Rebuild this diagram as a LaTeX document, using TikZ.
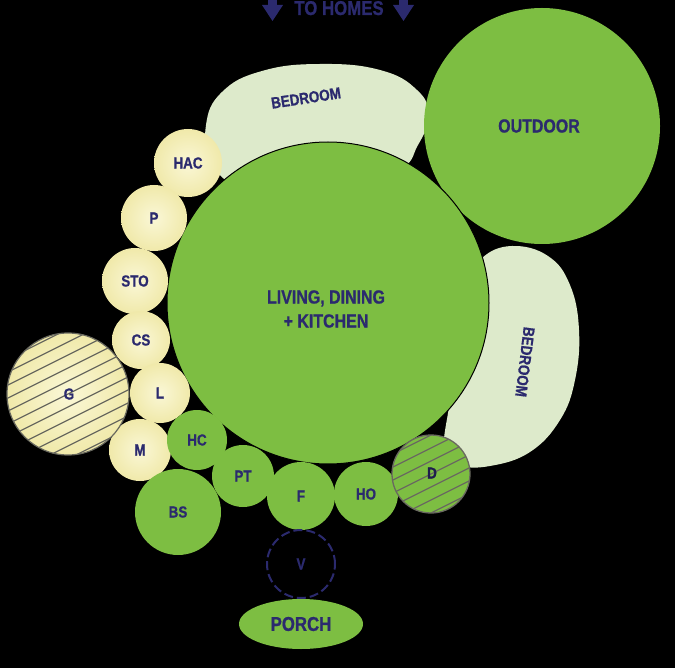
\documentclass[tikz,border=0pt]{standalone}
\usepackage{fontspec}
\usetikzlibrary{shapes.geometric}
\newfontfamily\labfont[FakeStretch=0.84, FakeBold=0.8]{Liberation Sans Bold}
\definecolor{navyc}{RGB}{43,42,110}
\definecolor{greenc}{RGB}{125,190,66}
\definecolor{bedc}{RGB}{221,234,203}
\definecolor{yelin}{RGB}{250,247,214}
\definecolor{yelout}{RGB}{240,233,170}
\definecolor{hatchc}{RGB}{105,105,95}
\tikzset{
  lbl/.style={text=navyc, font=\labfont\fontsize{16}{18}\selectfont},
  biglbl/.style={text=navyc, font=\labfont\fontsize{19}{24}\selectfont, align=center},
  bedlbl/.style={text=navyc, font=\labfont\fontsize{16}{18}\selectfont},
  yel/.style={circle, inner sep=0pt, outer sep=0pt, minimum size=#1pt, inner color=yelin, outer color=yelout, lbl},
  grn/.style={circle, inner sep=0pt, outer sep=0pt, minimum size=#1pt, fill=greenc, lbl},
  hatchlines/.style={path picture={
     \foreach \b in {-130,-117,...,130}
       \draw[hatchc, line width=1.3pt, shift={(path picture bounding box.center)}] (-90,\b+45) -- (90,\b-45);}},
}
\begin{document}
\begin{tikzpicture}[x=1pt,y=-1pt]
\useasboundingbox (0,0) rectangle (675,668);
\fill[black] (0,0) rectangle (675,668);

% bedrooms
\fill[bedc] plot[smooth cycle, tension=0.75] coordinates {(206,125) (222,92) (262,71) (320,64) (380,70) (417,90) (428,115) (418,145) (395,172) (320,192) (240,186) (212,160)};
\fill[bedc] plot[smooth cycle, tension=0.7] coordinates {(482,258) (512,246) (548,256) (570,285) (579,330) (575,380) (560,420) (530,452) (490,466) (458,465) (444,450) (450,400) (460,330) (468,285)};

% outdoor
\node[circle, fill=greenc, minimum size=236pt, inner sep=0pt, outer sep=0pt] (out) at (542,126) {};
\node[biglbl] (outl) at (539,126) {OUTDOOR};

% main circle
\node[circle, fill=greenc, draw=black, line width=1pt, minimum size=322pt, inner sep=0pt, outer sep=0pt] (liv) at (328,303) {};
\node[biglbl] (livl) at (326,309) {LIVING, DINING\\+ KITCHEN};

% bedroom labels
\node[bedlbl, rotate=8.7] (bed1) at (306,98) {BEDROOM};
\node[bedlbl, rotate=-97] (bed2) at (525,362) {BEDROOM};

% yellow circles
\node[yel=68] (hac) at (188,163) {HAC};
\node[yel=66] (p) at (154,218) {P};
\node[yel=66] (sto) at (135,281) {STO};
\node[yel=58] (cs) at (141,340) {CS};
\node[yel=60] (l) at (160,393) {L};
\node[yel=62] (m) at (140,450) {M};
\node[yel=122, draw=hatchc, line width=1.2pt, hatchlines] (g) at (68,394) {};
\node[lbl] (gl) at (69,394) {G};

% green circles
\node[grn=60] (hc) at (197,440) {HC};
\node[grn=62] (pt) at (243,476) {PT};
\node[grn=68] (f) at (301,496) {F};
\node[grn=64] (ho) at (366,494) {HO};
\node[grn=86] (bs) at (178,512) {BS};
\node[grn=78, draw=hatchc, line width=1.3pt, hatchlines] (d) at (431,474) {};
\node[lbl, text=navyc!70!black] (dl) at (432,473) {D};

% V and porch
\node[circle, draw=navyc, line width=2pt, dash pattern=on 9pt off 4pt, minimum size=68pt, inner sep=0pt, lbl] (v) at (301,564) {V};
\node[ellipse, fill=greenc, minimum width=124pt, minimum height=50pt, inner sep=0pt, biglbl, font=\labfont\fontsize{20}{24}\selectfont] (porch) at (301,624) {PORCH};

% to homes
\node[biglbl, anchor=base, font=\labfont\fontsize{20}{24}\selectfont] (home) at (339,15) {TO HOMES};
\fill[navyc] (268,-1) rectangle (277,6);
\fill[navyc] (262,5) -- (283,5) -- (272.5,21) -- cycle;
\fill[navyc] (399,-1) rectangle (408,6);
\fill[navyc] (393,5) -- (414,5) -- (403.5,21) -- cycle;
\end{tikzpicture}
\end{document}
